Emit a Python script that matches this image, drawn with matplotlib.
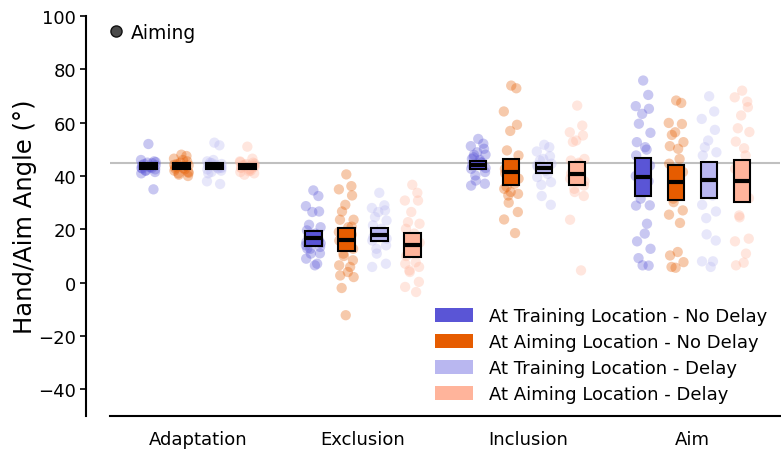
import numpy as np
import matplotlib.pyplot as plt
from matplotlib.patches import Patch, Rectangle
from matplotlib.lines import Line2D

plt.rcParams['font.family'] = ['DejaVu Sans']

tasks = ['Adaptation', 'Exclusion', 'Inclusion', 'Aim']
conds = ['At Training Location - No Delay', 'At Aiming Location - No Delay',
         'At Training Location - Delay', 'At Aiming Location - Delay']
colors = ['#5a55d6', '#e65c00', '#b9b7f0', '#ffb49b']

# group means and box half-heights (SE), rows = task, cols = condition
means = [[43.9, 43.8, 43.7, 43.6],
         [16.6, 16.1, 18.0, 14.1],
         [44.2, 41.5, 43.1, 40.8],
         [39.7, 37.6, 38.5, 38.2]]
sems = [[1.1, 1.0, 1.1, 1.0],
        [2.7, 4.4, 2.4, 4.4],
        [1.6, 4.9, 1.8, 4.3],
        [7.2, 6.5, 6.6, 7.8]]

# individual participants
adapt_tnd = [52, 35, 46, 45.5, 45, 44.5, 44, 44, 43.5, 43, 43, 42.5, 42, 42, 41.5, 41, 44.8, 43.2, 42.8, 45.2]
adapt_and = [48, 47.5, 46.5, 45.5, 45, 44.5, 44, 43.5, 43, 42.5, 42, 41.5, 41, 40.5, 40, 44.2, 43.8, 46, 42.8, 41.2]
adapt_td = [52.5, 51.5, 38, 37, 46, 45, 44.5, 44, 43.5, 43, 42.5, 42, 41.5, 44.8, 43.2, 45.5, 42.8, 44.2, 41, 43]
adapt_ad = [51, 46.5, 45.5, 45, 44.5, 44, 43.5, 43, 42.5, 42, 41.5, 41, 40.5, 44.2, 43.8, 45.2, 42.8, 41.8, 43.2, 44.6]

excl_tnd = [34.6, 32.5, 28.7, 26.7, 26.5, 21.7, 20.8, 19.6, 18.4, 16.5, 15.2, 13.4, 12.7,
            10.9, 11.0, 9.0, 7.1, 6.5, 12.8, 14.8, 17.2, 18.0, 16.0, 14.0, 15.5]
excl_and = [40.6, 36.2, 35, 32.7, 29.2, 26.7, 23.6, 23.6, 20.8, 17.7, 15.8, 12.7, 10.9, 10,
            8.4, 6.5, 5.9, 4, 2.7, 2.1, -2, -12.2, 18, 19, 21]
excl_td = [33.7, 29, 28, 27.1, 26.5, 24.6, 23.3, 21.5, 20.2, 17.7, 15.8, 14, 12.7, 10.9,
           7.1, 5.9, 18.5, 19, 17, 16.5]
excl_ad = [36.7, 33.7, 30.8, 30.8, 26.5, 22.7, 22.1, 20.2, 18.4, 7.7, 7.1, 5.9, 4.6, 4,
           0.3, -1.6, -3.5, 12, 10, 15]

incl_tnd = [53.9, 52.1, 51.2, 50.2, 48.9, 47.9, 48, 46.4, 45.2, 43.9, 42.7, 41.5, 40.2,
            38.3, 37.1, 36.4, 45, 46, 44, 43, 47]
incl_and = [73.9, 72.9, 64.2, 59.2, 56.9, 49.6, 47.7, 42.7, 40.2, 37.1, 35.2, 33.3, 32.7,
            30, 26.5, 23.7, 18.6, 44, 41, 39, 36, 34]
incl_td = [51.7, 50.8, 49.2, 47.4, 46.4, 45.8, 44.6, 43.4, 42.7, 40.8, 39.6, 37.7, 36.7,
           32.5, 29.2, 44, 43, 42]
incl_ad = [66.4, 58.9, 56.4, 55.2, 53.3, 52.8, 46.4, 45.8, 44.6, 42.7, 39, 36.4, 35.2,
           34, 32.5, 23.6, 4.6, 45, 41, 38]

aim_tnd = [75.8, 70.4, 66.2, 65.2, 63.3, 59.6, 56.2, 52.7, 50.8, 49.9, 47.7, 43.9, 36.4,
           31.5, 29, 28.9, 22.1, 18.4, 15.5, 12.7, 9.2, 6.5, 6.4, 40, 38]
aim_and = [68.3, 67.4, 59.9, 59.5, 56.4, 55.4, 52.7, 51.2, 50.2, 46.4, 44.6, 41.5, 31.5,
           30.2, 27.1, 25.5, 22.4, 11.5, 10.2, 7.7, 5.9, 5.6]
aim_td = [69.9, 64.2, 61.4, 57.3, 53.3, 50.8, 48.9, 47.7, 37.1, 32.7, 29.2, 26.7, 24.2,
          18.1, 15.8, 8, 8, 5.9]
aim_ad = [72, 67.9, 69.5, 65.8, 62.7, 57.9, 56.5, 52.9, 50.4, 47.7, 42.7, 31.7, 25.2,
          24.5, 16.5, 15.5, 10.9, 7.5, 6.5]

points = [[adapt_tnd, adapt_and, adapt_td, adapt_ad],
          [excl_tnd, excl_and, excl_td, excl_ad],
          [incl_tnd, incl_and, incl_td, incl_ad],
          [aim_tnd, aim_and, aim_td, aim_ad]]

offsets = [-0.3, -0.1, 0.1, 0.3]
box_w = 0.1

fig = plt.figure(figsize=(7.81, 4.52), dpi=100)
ax = fig.add_axes([0.1408, 0.0774, 0.858, 0.885])

ax.axhline(45, color='#c0c0c0', lw=1.5, zorder=0)

for t in range(len(tasks)):
    for c in range(len(conds)):
        x0 = t + offsets[c]
        vals = np.array(points[t][c])
        jit = 0.045 * np.sin(np.arange(len(vals)) * 2.39)
        ax.scatter(x0 + jit, vals, s=55, color=colors[c], alpha=0.33,
                   edgecolors='none', zorder=1)
        m, e = means[t][c], sems[t][c]
        ax.add_patch(Rectangle((x0 - box_w / 2, m - e), box_w, 2 * e,
                               facecolor=colors[c], edgecolor='black', lw=1.5, zorder=3))
        ax.plot([x0 - box_w / 2, x0 + box_w / 2], [m, m], color='black', lw=3,
                solid_capstyle='butt', zorder=4)

ax.set_xlim(-0.533, 3.53)
ax.set_ylim(-50, 100)
ax.set_xticks(range(len(tasks)))
ax.set_xticklabels(tasks, fontsize=13)
ax.set_yticks(np.arange(-40, 101, 20))
ax.tick_params(axis='y', labelsize=13, length=4, width=1.2)
ax.tick_params(axis='x', length=0, pad=10)
ax.spines['top'].set_visible(False)
ax.spines['right'].set_visible(False)
ax.spines['left'].set_position(('outward', 17))
ax.spines['left'].set_linewidth(1.5)
ax.spines['bottom'].set_linewidth(1.5)
ax.set_ylabel('Hand/Aim Angle (°)', fontsize=17.5, labelpad=1)

aim_handle = Line2D([], [], marker='o', ls='none', markersize=8,
                    markerfacecolor='#4a4a4a', markeredgecolor='#111111', label='Aiming')
leg1 = ax.legend(handles=[aim_handle], loc='upper left', frameon=False, fontsize=13.5,
                 handlelength=1.0, handletextpad=0.3, borderaxespad=0.0,
                 bbox_to_anchor=(-0.016, 1.002))
ax.add_artist(leg1)

handles = [Patch(facecolor=colors[i], label=conds[i]) for i in range(len(conds))]
ax.legend(handles=handles, loc='lower right', frameon=False, fontsize=13,
          handlelength=2.1, handleheight=0.8, handletextpad=0.9, labelspacing=0.45,
          borderaxespad=0.3)

fig.savefig('out.png', dpi=100)
